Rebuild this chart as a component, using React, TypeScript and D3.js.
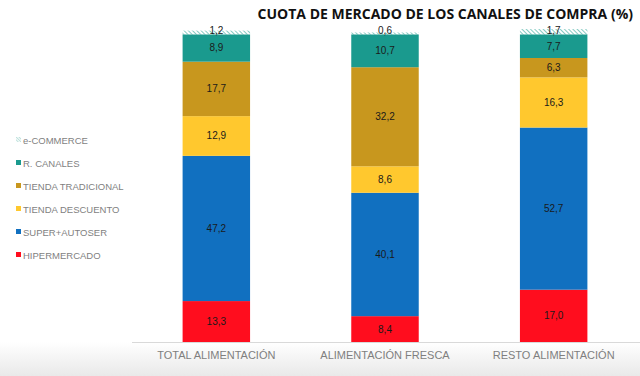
import React from "react";
import * as d3 from "d3";

const categories = ["TOTAL ALIMENTACIÓN", "ALIMENTACIÓN FRESCA", "RESTO ALIMENTACIÓN"];
const seriesNames = ["HIPERMERCADO", "SUPER+AUTOSER", "TIENDA DESCUENTO", "TIENDA TRADICIONAL", "R. CANALES", "e-COMMERCE"];
const hipermercado = [13.3, 8.4, 17.0];
const superAutoser = [47.2, 40.1, 52.7];
const tiendaDescuento = [12.9, 8.6, 16.3];
const tiendaTradicional = [17.7, 32.2, 6.3];
const rCanales = [8.9, 10.7, 7.7];
const eCommerce = [1.2, 0.6, 1.7];
const colors = ["#FF0D1E", "#1170C0", "#FFC82E", "#C8971E", "#1A9A8E", "url(#hatch)"];
const title = "CUOTA DE MERCADO DE LOS CANALES DE COMPRA (%)";

const seriesValues = [hipermercado, superAutoser, tiendaDescuento, tiendaTradicional, rCanales, eCommerce];

export default function App() {
  const W = 640, H = 376;
  const x = d3.scaleBand().domain(categories).range([132, 638]).paddingInner(0.6).paddingOuter(0.3);
  const y = d3.scaleLinear().domain([0, 100]).range([342, 34.3]);
  const rows = categories.map((c, i) => {
    const o: any = { cat: c };
    seriesNames.forEach((s, j) => (o[s] = seriesValues[j][i]));
    return o;
  });
  const stack = d3.stack<any>().keys(seriesNames)(rows);
  const fmt = (v: number) => v.toFixed(1).replace(".", ",");
  const legendOrder = [...seriesNames].reverse();
  const legendColors = ["url(#hatch2)", "#1A9A8E", "#C8971E", "#FFC82E", "#1170C0", "#FF0D1E"];
  return (
    <svg width={W} height={H} style={{ position: "absolute", left: 0, top: 0, background: "#fff" }}>
      <defs>
        <pattern id="hatch" patternUnits="userSpaceOnUse" width="3" height="3" patternTransform="rotate(-45)">
          <rect width="3" height="3" fill="#fff" />
          <line x1="0" y1="0" x2="0" y2="3" stroke="#4FB3A8" strokeWidth="1.4" />
        </pattern>
        <pattern id="hatch2" patternUnits="userSpaceOnUse" width="2" height="2" patternTransform="rotate(-45)">
          <rect width="2" height="2" fill="#fff" />
          <line x1="0" y1="0" x2="0" y2="2" stroke="#7CC4BA" strokeWidth="1" />
        </pattern>
        <linearGradient id="bg" x1="0" y1="0" x2="0" y2="1">
          <stop offset="0" stopColor="#ffffff" />
          <stop offset="1" stopColor="#e9e9e9" />
        </linearGradient>
      </defs>
      <rect x={0} y={0} width={W} height={H} fill="#fff" />
      <rect x={0} y={342} width={W} height={34} fill="url(#bg)" />
      <text x={633} y={19} textAnchor="end" fontFamily="'Open Sans', sans-serif" fontWeight={700} fontSize={14} fill="#111">
        {title}
      </text>
      <line x1={132} x2={640} y1={342.5} y2={342.5} stroke="#d9d9d9" strokeWidth={1} />
      {stack.map((layer, j) => (
        <g key={layer.key}>
          {layer.map((d, i) => {
            const x0 = x(categories[i])!;
            const y0 = y(d[1]);
            const h = y(d[0]) - y(d[1]);
            const isTop = j === seriesNames.length - 1;
            const ty = isTop ? y(d[0]) - 0.5 : (y(d[0]) + y(d[1])) / 2 + 3.5;
            return (
              <g key={i}>
                <rect x={x0} y={y0} width={x.bandwidth()} height={h} fill={colors[j]} />
                <text x={x0 + x.bandwidth() / 2} y={ty} textAnchor="middle" fontFamily="'Liberation Sans', Arial, sans-serif" fontSize={10} fill="#1a1a1a">
                  {fmt(d[1] - d[0])}
                </text>
              </g>
            );
          })}
        </g>
      ))}
      {categories.map((c) => (
        <text key={c} x={x(c)! + x.bandwidth() / 2} y={359} textAnchor="middle" fontFamily="'Liberation Sans', Arial, sans-serif" fontSize={11} fill="#7f7f7f">
          {c}
        </text>
      ))}
      {legendOrder.map((s, k) => {
        const ly = 140 + k * 23;
        return (
          <g key={s}>
            <rect x={16} y={ly - 3} width={5} height={5} fill={legendColors[k]} />
            <text x={23} y={ly + 3.5} fontFamily="'Liberation Sans', Arial, sans-serif" fontSize={9.5} fill="#7f7f7f">
              {s}
            </text>
          </g>
        );
      })}
    </svg>
  );
}
